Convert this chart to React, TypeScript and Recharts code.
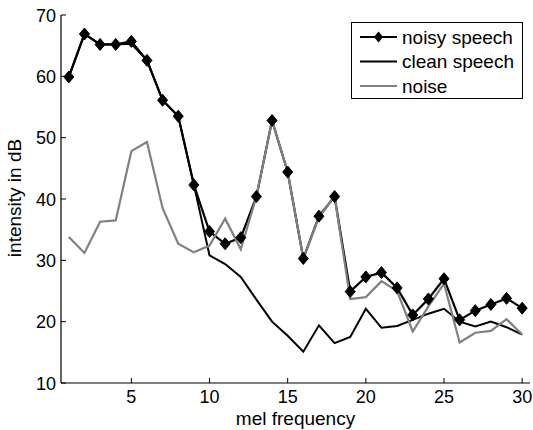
import React from 'react';
import { LineChart, Line, XAxis, YAxis, Legend } from 'recharts';

const freq = [1, 2, 3, 4, 5, 6, 7, 8, 9, 10, 11, 12, 13, 14, 15, 16, 17, 18, 19, 20, 21, 22, 23, 24, 25, 26, 27, 28, 29, 30];
const noisySpeech = [59.9, 66.9, 65.2, 65.2, 65.7, 62.6, 56.1, 53.5, 42.3, 34.7, 32.7, 33.7, 40.4, 52.8, 44.4, 30.3, 37.2, 40.4, 24.9, 27.3, 28.0, 25.5, 21.1, 23.7, 27.0, 20.3, 21.8, 22.8, 23.8, 22.2];
const cleanSpeech = [59.9, 66.9, 65.2, 65.2, 65.3, 62.6, 56.1, 53.5, 42.3, 30.8, 29.4, 27.3, 23.6, 20.0, 17.7, 15.1, 19.4, 16.5, 17.5, 22.1, 19.0, 19.3, 20.3, 21.3, 22.1, 20.0, 19.2, 20.0, 19.1, 17.9];
const noise = [33.8, 31.2, 36.3, 36.5, 47.8, 49.3, 38.5, 32.7, 31.3, 32.4, 36.8, 31.8, 40.4, 52.8, 44.4, 30.3, 37.0, 40.4, 23.7, 24.0, 26.6, 25.0, 18.4, 22.5, 26.2, 16.6, 18.2, 18.5, 20.4, 17.9];
const xTicks = [5, 10, 15, 20, 25, 30];
const yTicks = [10, 20, 30, 40, 50, 60, 70];
const seriesNames = ['noisy speech', 'clean speech', 'noise'];

const data = freq.map((f, i) => ({ freq: f, noisy: noisySpeech[i], clean: cleanSpeech[i], noise: noise[i] }));

const FONT = '"Liberation Sans", Arial, Helvetica, sans-serif';
const TICK_LEN = 5;

const Diamond = (props: any) => {
  const { cx, cy } = props;
  if (cx == null || cy == null) return null;
  return <polygon points={`${cx},${cy - 6} ${cx + 5},${cy} ${cx},${cy + 6} ${cx - 5},${cy}`} fill="#000" stroke="#000" strokeWidth={1} />;
};

const BottomTick = (props: any) => {
  const { x, y, payload } = props;
  return (
    <g>
      <line x1={x} y1={y} x2={x} y2={y - TICK_LEN} stroke="#000" strokeWidth={1} />
      <text x={x} y={y + 20} textAnchor="middle" fontSize={18} fontFamily={FONT} fill="#000">{payload.value}</text>
    </g>
  );
};

const TopTick = (props: any) => {
  const { x, y } = props;
  return <line x1={x} y1={y} x2={x} y2={y + TICK_LEN} stroke="#000" strokeWidth={1} />;
};

const LeftTick = (props: any) => {
  const { x, y, payload } = props;
  return (
    <g>
      <line x1={x} y1={y} x2={x + TICK_LEN} y2={y} stroke="#000" strokeWidth={1} />
      <text x={x - 5} y={y + 6.5} textAnchor="end" fontSize={18} fontFamily={FONT} fill="#000">{payload.value}</text>
    </g>
  );
};

const RightTick = (props: any) => {
  const { x, y } = props;
  return <line x1={x} y1={y} x2={x - TICK_LEN} y2={y} stroke="#000" strokeWidth={1} />;
};

const LegendBox = () => {
  const colors = ['#000', '#000', '#808080'];
  return (
    <div style={{ border: '1px solid #000', background: '#fff', width: 170, height: 75, boxSizing: 'content-box', position: 'relative', fontFamily: FONT }}>
      <svg width={170} height={75} style={{ position: 'absolute', left: 0, top: 0 }}>
        {seriesNames.map((name, i) => {
          const cy = 14 + i * 24.5;
          return (
            <g key={name}>
              <line x1={8} y1={cy} x2={45} y2={cy} stroke={colors[i]} strokeWidth={2} />
              {i === 0 && <polygon points={`26.5,${cy - 5.5} 31,${cy} 26.5,${cy + 5.5} 22,${cy}`} fill="#000" />}
              <text x={50} y={cy + 6.5} fontSize={19} fontFamily={FONT} fill="#000">{name}</text>
            </g>
          );
        })}
      </svg>
    </div>
  );
};

export default function App() {
  return (
    <div style={{ position: 'absolute', left: 0, top: 0, width: 533, height: 430, background: '#fff' }}>
      <LineChart width={533} height={430} data={data} margin={{ top: 15, right: 3, bottom: 0, left: 0 }}>
        <XAxis
          xAxisId="bottom"
          dataKey="freq"
          type="number"
          domain={[0.5, 30.5]}
          ticks={xTicks}
          interval={0}
          height={47}
          tickSize={0}
          tickMargin={0}
          tickLine={false}
          axisLine={{ stroke: '#000', strokeWidth: 1.2 }}
          tick={<BottomTick />}
          allowDataOverflow
          label={{ content: (p: any) => {
            const vb = p.viewBox;
            return <text x={vb.x + vb.width / 2} y={425} textAnchor="middle" fontSize={19} fontFamily={FONT} fill="#000">mel frequency</text>;
          } }}
        />
        <XAxis
          xAxisId="top"
          orientation="top"
          dataKey="freq"
          type="number"
          domain={[0.5, 30.5]}
          ticks={xTicks}
          interval={0}
          height={0}
          tickSize={0}
          tickMargin={0}
          tickLine={false}
          axisLine={{ stroke: '#000', strokeWidth: 1.2 }}
          tick={<TopTick />}
          allowDataOverflow
        />
        <YAxis
          yAxisId="left"
          type="number"
          domain={[10, 70]}
          ticks={yTicks}
          interval={0}
          width={61}
          tickSize={0}
          tickMargin={0}
          tickLine={false}
          axisLine={{ stroke: '#000', strokeWidth: 1.2 }}
          tick={<LeftTick />}
          allowDataOverflow
          label={{ content: () => (
            <text x={0} y={0} transform="translate(21,198) rotate(-90)" textAnchor="middle" fontSize={19} fontFamily={FONT} fill="#000">intensity in dB</text>
          ) }}
        />
        <YAxis
          yAxisId="right"
          orientation="right"
          type="number"
          domain={[10, 70]}
          ticks={yTicks}
          interval={0}
          width={0}
          tickSize={0}
          tickMargin={0}
          tickLine={false}
          axisLine={{ stroke: '#000', strokeWidth: 1.2 }}
          tick={<RightTick />}
          allowDataOverflow
        />
        <Legend
          layout="vertical"
          align="center"
          verticalAlign="middle"
          wrapperStyle={{ position: 'absolute', left: 351, top: 22, width: 172, height: 77 }}
          content={() => <LegendBox />}
        />
        <Line xAxisId="bottom" yAxisId="left" type="linear" dataKey="noisy" name={seriesNames[0]} stroke="#000" strokeWidth={2.2} dot={<Diamond />} activeDot={false} isAnimationActive={false} />
        <Line xAxisId="bottom" yAxisId="left" type="linear" dataKey="clean" name={seriesNames[1]} stroke="#000" strokeWidth={2} dot={false} activeDot={false} isAnimationActive={false} />
        <Line xAxisId="bottom" yAxisId="left" type="linear" dataKey="noise" name={seriesNames[2]} stroke="#808080" strokeWidth={2.2} dot={false} activeDot={false} isAnimationActive={false} />
      </LineChart>
    </div>
  );
}
